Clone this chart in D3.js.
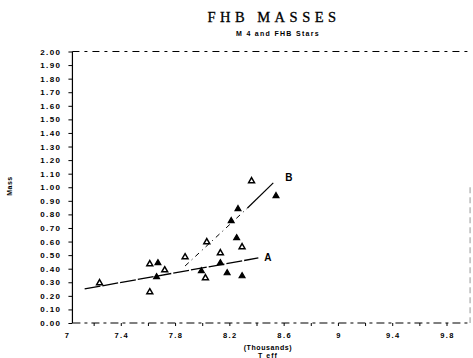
<!DOCTYPE html>
<html><head><meta charset="utf-8">
<script src="https://cdn.jsdelivr.net/npm/d3@7"></script>
<style>
body{margin:0;background:#fff;}
svg{display:block;}
text{fill:#000;}
</style></head>
<body>
<svg id="c" width="473" height="358"></svg>
<script>
const yTicks = [0,0.1,0.2,0.3,0.4,0.5,0.6,0.7,0.8,0.9,1.0,1.1,1.2,1.3,1.4,1.5,1.6,1.7,1.8,1.9,2.0];
const xTicks = [7,7.4,7.8,8.2,8.6,9,9.4,9.8];
const xTickLabels = ["7","7.4","7.8","8.2","8.6","9","9.4","9.8"];
const frameX = [7.04, 9.97];

const openX = [7.24,7.61,7.61,7.72,7.87,8.03,8.13,8.02,8.29,8.36];
const openY = [0.295,0.435,0.228,0.39,0.486,0.597,0.516,0.332,0.56,1.046];
const filledX = [7.67,7.66,8.25,8.13,7.99,8.18,8.29,8.54,8.26,8.21];
const filledY = [0.442,0.339,0.626,0.442,0.383,0.368,0.346,0.936,0.84,0.752];

const lineAX = [7.13,8.41];
const lineAY = [0.251,0.479];
const lineBX = [7.87,8.33,8.52];
const lineBY = [0.42,0.847,1.032];

const svg = d3.select("#c");
const x = d3.scaleLinear().domain([7,9.8]).range([67,447]);
const y = d3.scaleLinear().domain([0,2]).range([323,51.5]);

// Titles
svg.append("text").attr("x",274).attr("y",22).attr("text-anchor","middle")
  .style("font-family","'Liberation Serif',serif").style("font-size","14.5px")
  .style("letter-spacing","4.5px").style("stroke","#000").style("stroke-width","0.3px").text("FHB  MASSES");
svg.append("text").attr("x",278).attr("y",36).attr("text-anchor","middle")
  .style("font-family","'Liberation Sans',sans-serif").style("font-size","7px").style("font-weight","bold")
  .style("letter-spacing","1.3px").text("M 4 and FHB Stars");

// Frame
const fx0 = x(frameX[0]), fx1 = x(frameX[1]);
svg.append("line").attr("x1",fx0).attr("x2",fx0).attr("y1",y(2)).attr("y2",y(0))
  .attr("stroke","#000").attr("stroke-width",1.2);
svg.append("line").attr("x1",fx0).attr("x2",fx1).attr("y1",y(2)).attr("y2",y(2))
  .attr("stroke","#000").attr("stroke-width",1).attr("stroke-dasharray","7,5,3,5");
svg.append("line").attr("x1",fx0).attr("x2",fx1).attr("y1",y(0)).attr("y2",y(0))
  .attr("stroke","#000").attr("stroke-width",1.1).attr("stroke-dasharray","8,4,3,4");
svg.append("line").attr("x1",fx1).attr("x2",fx1).attr("y1",y(1.0)).attr("y2",y(0))
  .attr("stroke","#999").attr("stroke-width",1).attr("stroke-dasharray","6,4");

// Y axis ticks & labels
const yAxis = d3.axisLeft(y).tickValues(yTicks).tickSize(4).tickFormat(d3.format(".2f"));
const ga = svg.append("g").attr("transform",`translate(${fx0},0)`).call(yAxis);
ga.select(".domain").remove();
ga.selectAll("line").attr("stroke","#000");
ga.selectAll("text").attr("x",-11)
  .style("font-family","'Liberation Sans',sans-serif").style("font-size","8px").style("font-weight","bold")
  .style("letter-spacing","1.4px");

// X axis labels
const xAxis = d3.axisBottom(x).tickValues(xTicks).tickSize(0).tickFormat((d,i)=>xTickLabels[i]);
const gx = svg.append("g").attr("transform",`translate(0,${y(0)})`).call(xAxis);
gx.select(".domain").remove();
gx.selectAll("text").attr("y",10)
  .style("font-family","'Liberation Sans',sans-serif").style("font-size","7.5px").style("font-weight","bold")
  .style("letter-spacing","1.4px");
svg.append("g").selectAll("line").data(d3.range(7.2,9.9,0.2)).join("line")
  .attr("x1",d=>x(d)).attr("x2",d=>x(d)).attr("y1",y(0)).attr("y2",y(0)+3)
  .attr("stroke","#000").attr("stroke-width",1);

// Axis titles
svg.append("text").attr("x",268).attr("y",349.5).attr("text-anchor","middle")
  .style("font-family","'Liberation Sans',sans-serif").style("font-size","7px").style("font-weight","bold")
  .style("letter-spacing","0.6px").text("(Thousands)");
svg.append("text").attr("x",268).attr("y",357.5).attr("text-anchor","middle")
  .style("font-family","'Liberation Sans',sans-serif").style("font-size","7px").style("font-weight","bold")
  .style("letter-spacing","1px").text("T eff");
svg.append("text").attr("transform","translate(12,186) rotate(-90)").attr("text-anchor","middle")
  .style("font-family","'Liberation Sans',sans-serif").style("font-size","7px").style("font-weight","bold")
  .style("letter-spacing","0.5px").text("Mass");

// Lines
const ln = d3.line().x(d=>x(d[0])).y(d=>y(d[1]));
svg.append("path").datum(lineAX.map((v,i)=>[v,lineAY[i]])).attr("d",ln)
  .attr("fill","none").attr("stroke","#000").attr("stroke-width",1.3).attr("stroke-dasharray","16,2");
svg.append("path").datum([[lineBX[0],lineBY[0]],[lineBX[1],lineBY[1]]]).attr("d",ln)
  .attr("fill","none").attr("stroke","#000").attr("stroke-width",1).attr("stroke-dasharray","5,4,1,4");
svg.append("path").datum([[lineBX[1],lineBY[1]],[lineBX[2],lineBY[2]]]).attr("d",ln)
  .attr("fill","none").attr("stroke","#000").attr("stroke-width",1.2);
svg.append("text").attr("x",x(lineAX[1])+6).attr("y",y(lineAY[1])+3)
  .style("font-family","'Liberation Sans',sans-serif").style("font-size","10px").style("font-weight","bold").text("A");
svg.append("text").attr("x",x(lineBX[2])+12).attr("y",y(lineBY[2])-2)
  .style("font-family","'Liberation Sans',sans-serif").style("font-size","10px").style("font-weight","bold").text("B");

// Points
const tri = d3.symbol().type(d3.symbolTriangle).size(15);
svg.append("g").selectAll("path").data(openX.map((v,i)=>[v,openY[i]])).join("path")
  .attr("d",tri).attr("transform",d=>`translate(${x(d[0])},${y(d[1])})`)
  .attr("fill","#fff").attr("stroke","#000").attr("stroke-width",1.5);
svg.append("g").selectAll("path").data(filledX.map((v,i)=>[v,filledY[i]])).join("path")
  .attr("d",tri).attr("transform",d=>`translate(${x(d[0])},${y(d[1])})`)
  .attr("fill","#000").attr("stroke","#000").attr("stroke-width",1.2);
</script>
</body></html>
